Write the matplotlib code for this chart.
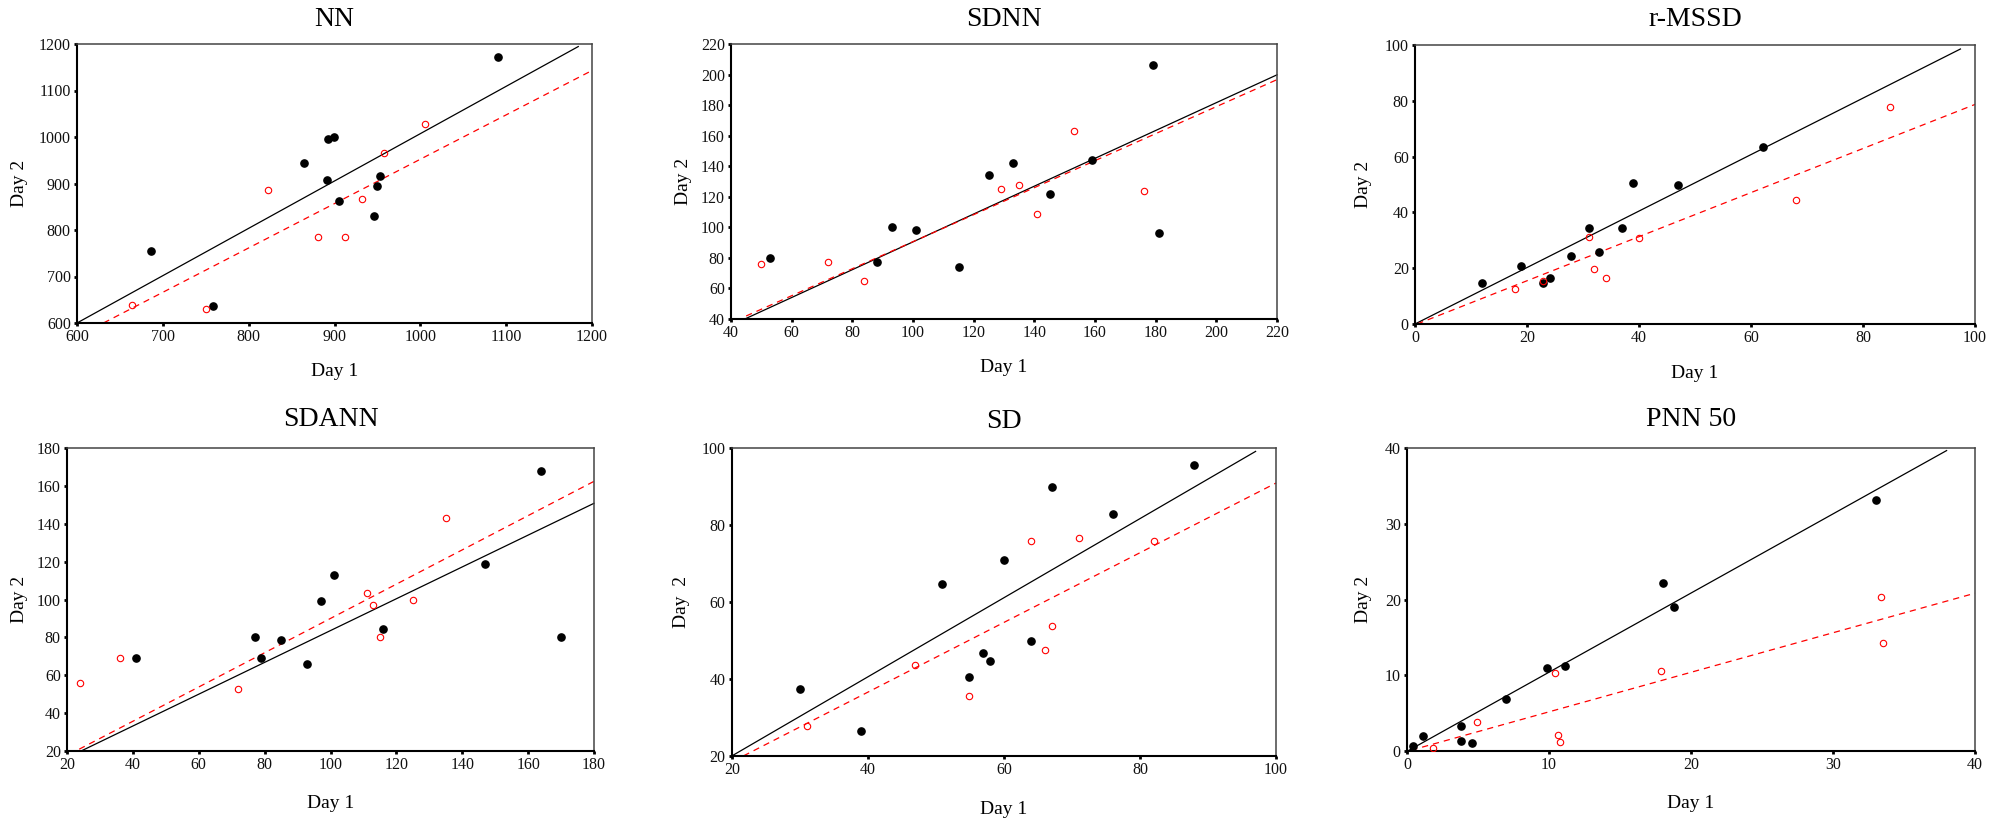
import matplotlib
matplotlib.use("Agg")
import matplotlib.pyplot as plt
import numpy as np

plt.rcParams['font.family'] = ['Liberation Serif', 'DejaVu Serif']

# ---------------- data ----------------
titles = ["NN", "SDNN", "r-MSSD", "SDANN", "SD", "PNN 50"]
ylabels = ["Day 2", "Day 2", "Day 2", "Day 2", "Day  2", "Day 2"]
xlabel_text = "Day 1"

# NN
nn_black_x = [686, 759, 865, 892, 899, 891, 905, 953, 949, 946, 1091]
nn_black_y = [755, 637, 945, 995, 999, 908, 862, 917, 894, 830, 1171]
nn_red_x = [664, 750, 822, 881, 912, 932, 958, 1006]
nn_red_y = [638, 630, 885, 784, 784, 867, 965, 1029]
nn_black_fit = (1.018, -10.8, 600, 1184)   # slope, intercept, x from, x to
nn_red_fit = (0.954, -1.8, 631, 1200)
nn_xlim = (600, 1200); nn_ylim = (600, 1200)
nn_xticks = [600, 700, 800, 900, 1000, 1100, 1200]
nn_yticks = [600, 700, 800, 900, 1000, 1100, 1200]

# SDNN
sdnn_black_x = [53, 88, 93, 101, 115, 125, 133, 145, 159, 179, 181]
sdnn_black_y = [80, 77, 100, 98, 74, 134, 142, 122, 144, 206.5, 96]
sdnn_red_x = [50, 72, 84, 129, 135, 141, 153, 176]
sdnn_red_y = [76, 77, 65, 125, 128, 109, 163, 124]
sdnn_black_fit = (0.911, -0.6, 44.6, 220)
sdnn_red_fit = (0.884, 2.2, 45, 220)
sdnn_xlim = (40, 220); sdnn_ylim = (40, 220)
sdnn_xticks = [40, 60, 80, 100, 120, 140, 160, 180, 200, 220]
sdnn_yticks = [40, 60, 80, 100, 120, 140, 160, 180, 200, 220]

# r-MSSD
rmssd_black_x = [12, 19, 22.9, 24.1, 27.9, 31, 32.9, 36.9, 39, 46.9, 62.1]
rmssd_black_y = [14.6, 20.8, 14.6, 16.5, 24.5, 34.5, 25.7, 34.5, 50.5, 49.8, 63.6]
rmssd_red_x = [17.9, 22.9, 31, 31.9, 34.1, 40, 68.1, 84.9]
rmssd_red_y = [12.7, 15.4, 31.3, 19.6, 16.5, 30.7, 44.4, 77.8]
rmssd_black_fit = (1.012, 0.0, 0, 97.4)
rmssd_red_fit = (0.79, -0.3, 0.4, 100)
rmssd_xlim = (0, 100); rmssd_ylim = (0, 100)
rmssd_xticks = [0, 20, 40, 60, 80, 100]
rmssd_yticks = [0, 20, 40, 60, 80, 100]

# SDANN
sdann_black_x = [41, 77, 79, 85, 93, 97, 101, 116, 147, 164, 170]
sdann_black_y = [69, 80, 69, 78.5, 66, 99, 113, 84.5, 119, 168, 80]
sdann_red_x = [24, 36, 72, 111, 113, 115, 125, 135]
sdann_red_y = [56, 69, 53, 103.5, 97, 80, 100, 143]
sdann_black_fit = (0.840, -0.4, 24.3, 180)
sdann_red_fit = (0.905, -0.5, 23.7, 180)
sdann_xlim = (20, 180); sdann_ylim = (20, 180)
sdann_xticks = [20, 40, 60, 80, 100, 120, 140, 160, 180]
sdann_yticks = [20, 40, 60, 80, 100, 120, 140, 160, 180]

# SD
sd_black_x = [30, 38.9, 50.9, 54.9, 56.9, 58, 60, 64, 67, 76, 88]
sd_black_y = [37.5, 26.5, 64.8, 40.6, 46.7, 44.6, 70.8, 49.8, 89.8, 82.8, 95.7]
sd_red_x = [31, 46.9, 54.9, 64, 66, 67, 71.1, 82]
sd_red_y = [27.7, 43.6, 35.7, 75.8, 47.6, 53.8, 76.7, 75.8]
sd_black_fit = (1.027, -0.5, 20, 97)
sd_red_fit = (0.905, 0.4, 21.7, 100)
sd_xlim = (20, 100); sd_ylim = (20, 100)
sd_xticks = [20, 40, 60, 80, 100]
sd_yticks = [20, 40, 60, 80, 100]

# PNN 50
pnn_black_x = [0.42, 1.1, 3.8, 3.8, 4.6, 7.0, 9.84, 11.1, 18.06, 18.8, 33.0]
pnn_black_y = [0.7, 1.93, 3.3, 1.3, 1.0, 6.8, 10.9, 11.25, 22.2, 19.0, 33.2]
pnn_red_x = [1.8, 4.9, 10.4, 10.6, 10.8, 17.9, 33.35, 33.5]
pnn_red_y = [0.44, 3.8, 10.3, 2.07, 1.19, 10.6, 20.3, 14.3]
pnn_black_fit = (1.045, -0.05, 0.05, 38)
pnn_red_fit = (0.522, -0.05, 0.3, 40)
pnn_xlim = (0, 40); pnn_ylim = (0, 40)
pnn_xticks = [0, 10, 20, 30, 40]
pnn_yticks = [0, 10, 20, 30, 40]

panels = [
    (nn_black_x, nn_black_y, nn_red_x, nn_red_y, nn_black_fit, nn_red_fit, nn_xlim, nn_ylim, nn_xticks, nn_yticks),
    (sdnn_black_x, sdnn_black_y, sdnn_red_x, sdnn_red_y, sdnn_black_fit, sdnn_red_fit, sdnn_xlim, sdnn_ylim, sdnn_xticks, sdnn_yticks),
    (rmssd_black_x, rmssd_black_y, rmssd_red_x, rmssd_red_y, rmssd_black_fit, rmssd_red_fit, rmssd_xlim, rmssd_ylim, rmssd_xticks, rmssd_yticks),
    (sdann_black_x, sdann_black_y, sdann_red_x, sdann_red_y, sdann_black_fit, sdann_red_fit, sdann_xlim, sdann_ylim, sdann_xticks, sdann_yticks),
    (sd_black_x, sd_black_y, sd_red_x, sd_red_y, sd_black_fit, sd_red_fit, sd_xlim, sd_ylim, sd_xticks, sd_yticks),
    (pnn_black_x, pnn_black_y, pnn_red_x, pnn_red_y, pnn_black_fit, pnn_red_fit, pnn_xlim, pnn_ylim, pnn_xticks, pnn_yticks),
]

# ---------------- layout (pixels) ----------------
W, H = 2004, 824
# left, right, top, bottom of each axes box
boxes = [(77, 592, 44, 323), (731, 1277, 44, 319), (1415, 1975, 45, 324),
         (67, 594, 448, 751), (732, 1276, 448, 756), (1407, 1975, 448, 751)]
title_y = [20, 20, 20, 420, 422, 420]
xlabel_y = [372, 368, 373, 803, 809, 804]
ylabel_x = [20, 683, 1363, 19.5, 682, 1363]

fig = plt.figure(figsize=(W / 100, H / 100), dpi=100)

for i, (bx, by, rx, ry, bfit, rfit, xlim, ylim, xt, yt) in enumerate(panels):
    l, r, t, b = boxes[i]
    ax = fig.add_axes([l / W, 1 - b / H, (r - l) / W, (b - t) / H])
    ax.set_xlim(*xlim)
    ax.set_ylim(*ylim)

    # regression lines
    xs = np.array([bfit[2], bfit[3]])
    ax.plot(xs, bfit[0] * xs + bfit[1], color='black', lw=0.9, zorder=2, clip_on=False)
    xs = np.array([rfit[2], rfit[3]])
    ax.plot(xs, rfit[0] * xs + rfit[1], color='red', lw=0.9, ls=(0, (5, 4)), zorder=2, clip_on=False)

    # points
    ax.plot(bx, by, 'o', color='black', ms=5.2, mec='black', zorder=3)
    ax.plot(rx, ry, 'o', mfc='none', mec='red', ms=4.6, mew=0.8, zorder=3)

    ax.set_xticks(xt)
    ax.set_yticks(yt)
    ax.tick_params(axis='both', direction='out', length=2.5, width=2.0, color='black',
                   labelsize=11.5, pad=2, labelcolor='#111111')

    for s in ['left', 'bottom']:
        ax.spines[s].set_color('black')
        ax.spines[s].set_linewidth(1.5)
    for s in ['top', 'right']:
        ax.spines[s].set_color('#444444')
        ax.spines[s].set_linewidth(1.1)

    cx = (l + r) / 2
    fig.text(cx / W, 1 - title_y[i] / H, titles[i], ha='center', va='center', fontsize=20)
    fig.text(cx / W, 1 - xlabel_y[i] / H, xlabel_text, ha='center', va='center', fontsize=14)
    cy = (t + b) / 2
    fig.text(ylabel_x[i] / W, 1 - cy / H, ylabels[i], ha='center', va='center',
             rotation=90, fontsize=14)

fig.savefig("out.png", dpi=100, facecolor='white')
